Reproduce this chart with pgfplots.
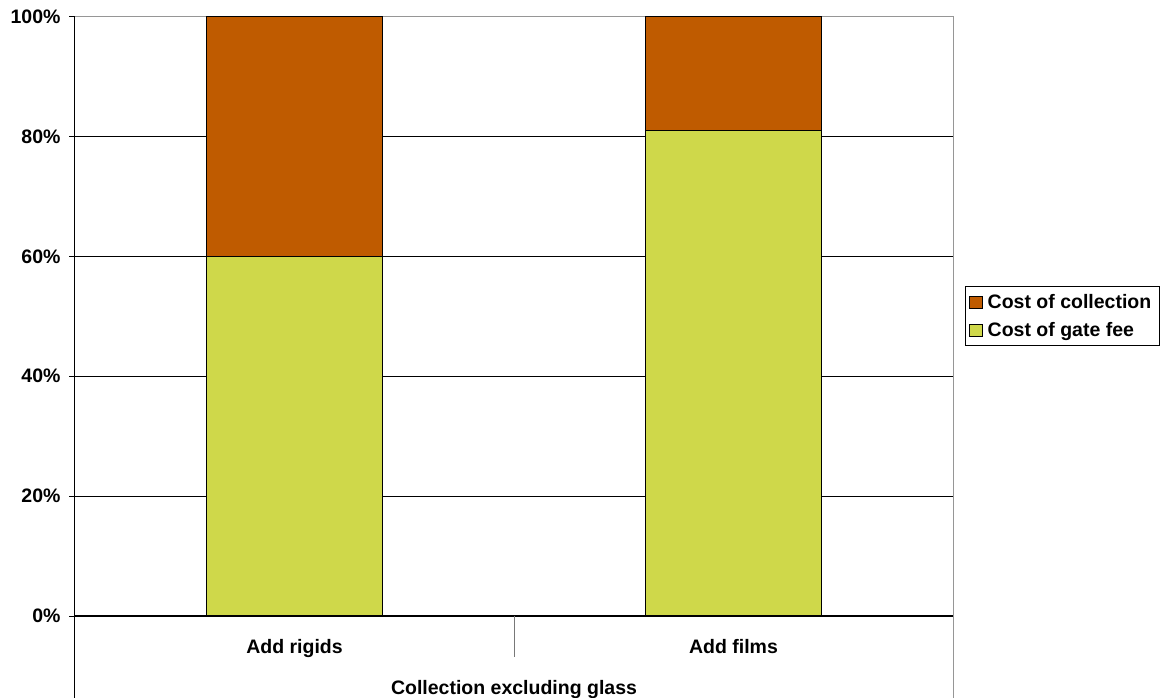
\documentclass[border=0pt]{standalone}
\usepackage{fontspec}
\setmainfont{Liberation Sans}
\usepackage{pgfplots}
\pgfplotsset{compat=1.18}
\definecolor{collect}{RGB}{191,91,0}
\definecolor{gatefee}{RGB}{207,216,74}
\definecolor{frame}{RGB}{150,150,150}
\newcommand{\lbl}{\fontsize{19.5pt}{23pt}\selectfont\bfseries}
\begin{document}
\begin{tikzpicture}
\useasboundingbox (0,0) rectangle (1164pt,698pt);
\begin{axis}[
  at={(75pt,82pt)}, anchor=south west,
  scale only axis, width=878pt, height=599.5pt,
  ybar stacked, bar width=176pt,
  xmin=-0.5, xmax=1.5, ymin=0, ymax=100,
  xtick={0,1}, xticklabels={Add rigids, Add films},
  major x tick style={draw=none},
  ytick={0,20,40,60,80,100},
  yticklabel={\pgfmathprintnumber{\tick}\%},
  ytick pos=left, tick align=outside,
  major tick length=6pt,
  tick style={black, line width=0.8pt},
  ymajorgrids, major grid style={black, line width=0.8pt},
  axis line style={frame, line width=1pt},
  /pgf/number format/assume math mode=true,
  tick label style={font=\lbl},
  yticklabel style={xshift=-5pt},
  xticklabel style={yshift=-14pt},
  clip=false,
  reverse legend,
  legend cell align=left,
  legend style={at={(1.0137,0.5)}, anchor=west, font=\lbl,
    draw=black, line width=0.8pt, inner xsep=3.5pt, inner ysep=5.5pt,
    row sep=8.5pt, nodes={inner xsep=4.5pt}},
  legend image code/.code={\draw[#1, draw=black, line width=0.8pt] (1.5pt,-6pt) rectangle (15pt,6pt);},
]
\addplot[fill=gatefee, draw=black, line width=1pt] coordinates {(0,59.9) (1,80.9)};
\addlegendentry{Cost of gate fee}
\addplot[fill=collect, draw=black, line width=1pt] coordinates {(0,40.1) (1,19.1)};
\addlegendentry{Cost of collection}
% axis lines at left and bottom, and category separators below
\draw[black, line width=1pt] (rel axis cs:0,1) -- (rel axis cs:0,0) -- (rel axis cs:1,0);
\draw[black, line width=1pt] (rel axis cs:0,0) -- ([yshift=-82pt]rel axis cs:0,0);
\draw[frame, line width=1pt] (rel axis cs:1,0) -- ([yshift=-82pt]rel axis cs:1,0);
\draw[frame!80!black, line width=1pt] (rel axis cs:0.5,0) -- ([yshift=-41.5pt]rel axis cs:0.5,0);
\node[font=\lbl] at ([yshift=-73.5pt]rel axis cs:0.5,0) {Collection excluding glass};
\end{axis}
\end{tikzpicture}
\end{document}
